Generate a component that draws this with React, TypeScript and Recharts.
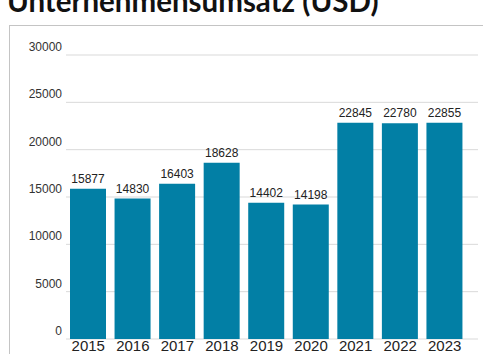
import React from 'react';
import { BarChart, Bar, XAxis, YAxis, CartesianGrid, LabelList } from 'recharts';

const years = ['2015', '2016', '2017', '2018', '2019', '2020', '2021', '2022', '2023'];
const revenue = [15877, 14830, 16403, 18628, 14402, 14198, 22845, 22780, 22855];
const yTicks = [0, 5000, 10000, 15000, 20000, 25000, 30000];

const data = years.map((y, i) => ({ year: y, value: revenue[i] }));

const YTick = (props: any) => {
  const { x, y, payload } = props;
  return (
    <text x={x} y={y - 4} textAnchor="end" fontSize={12} fill="#333" fontFamily="'Liberation Sans', Arial, sans-serif">
      {payload.value}
    </text>
  );
};

const XTick = (props: any) => {
  const { x, y, payload } = props;
  return (
    <text x={x} y={y + 12} textAnchor="middle" fontSize={15} fill="#222" fontFamily="'Liberation Sans', Arial, sans-serif">
      {payload.value}
    </text>
  );
};

export default function App() {
  return (
    <div style={{ position: 'absolute', left: 0, top: 0, width: 483, height: 354, overflow: 'hidden', background: '#fff' }}>
      <svg width={483} height={30} style={{ position: 'absolute', left: 0, top: 0 }}>
        <text x={7} y={11.5} fontSize={29.5} fontWeight={700} fill="#111" fontFamily="Lato, sans-serif">
          Unternehmensumsatz (USD)
        </text>
      </svg>
      <div style={{ position: 'absolute', left: 9, top: 25, width: 480, height: 340, border: '1px solid #c4c4c4', boxSizing: 'border-box' }} />
      <div style={{ position: 'absolute', left: 0, top: 0 }}>
        <BarChart width={483} height={354} data={data} margin={{ top: 55, right: 5, bottom: 0, left: 10 }}>
          <CartesianGrid vertical={false} stroke="#d9d9d9" />
          <YAxis
            domain={[0, 30000]}
            ticks={yTicks}
            width={56}
            axisLine={false}
            tickLine={false}
            tickSize={0}
            tickMargin={4}
            tick={<YTick />}
            interval={0}
          />
          <XAxis
            dataKey="year"
            height={15}
            axisLine={false}
            tickLine={false}
            tickSize={0}
            tickMargin={0}
            padding={{ left: 0, right: 11 }}
            tick={<XTick />}
            interval={0}
          />
          <Bar dataKey="value" fill="#027fa5" barSize={36} isAnimationActive={false}>
            <LabelList dataKey="value" position="top" offset={6} fontSize={12} fill="#222" fontFamily="'Liberation Sans', Arial, sans-serif" />
          </Bar>
        </BarChart>
      </div>
    </div>
  );
}
